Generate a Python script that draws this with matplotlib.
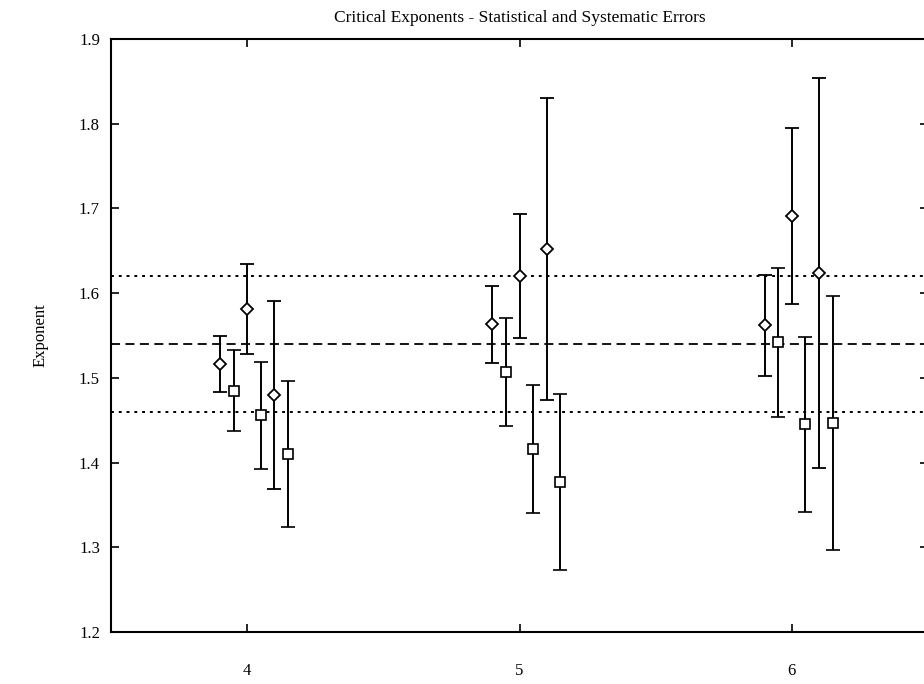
import matplotlib
matplotlib.use("Agg")
import matplotlib.pyplot as plt

# dimension groups and the offsets used for the two estimator series
dims = [4, 5, 6]
diamond_offsets = [-0.10, 0.00, 0.10]
square_offsets = [-0.05, 0.05, 0.15]

# diamonds (statistical), per dimension, three estimates each
diamond_vals = [[1.516, 1.581, 1.480],
                [1.563, 1.620, 1.652],
                [1.562, 1.691, 1.624]]
diamond_errs = [[0.033, 0.053, 0.111],
                [0.045, 0.073, 0.178],
                [0.060, 0.104, 0.230]]

# squares (systematic)
square_vals = [[1.485, 1.456, 1.410],
               [1.507, 1.416, 1.377],
               [1.542, 1.445, 1.447]]
square_errs = [[0.048, 0.063, 0.086],
               [0.064, 0.076, 0.104],
               [0.088, 0.103, 0.150]]

mean_value = 1.54
band = [1.46, 1.62]

plt.rcParams["font.family"] = ["Liberation Serif", "DejaVu Serif"]

fig = plt.figure(figsize=(9.24, 6.84), dpi=100)
ax = fig.add_axes([111 / 924, 1 - 632 / 684, 817 / 924, 593 / 684])

ax.axhline(mean_value, color="black", lw=1.3, ls=(0, (5, 3)))
for b in band:
    ax.axhline(b, color="black", lw=1.4, ls=(0, (1.5, 2.5)))

for i, d in enumerate(dims):
    xs = [d + o for o in diamond_offsets]
    ax.errorbar(xs, diamond_vals[i], yerr=diamond_errs[i], fmt="D",
                ms=6, mfc="white", mec="black", mew=1.3, color="black",
                ecolor="black", elinewidth=1.4, capsize=5, capthick=1.4)
    xs = [d + o for o in square_offsets]
    ax.errorbar(xs, square_vals[i], yerr=square_errs[i], fmt="s",
                ms=7, mfc="white", mec="black", mew=1.2, color="black",
                ecolor="black", elinewidth=1.4, capsize=5, capthick=1.4)

ax.set_xlim(3.5, 6.5)
ax.set_ylim(1.2, 1.9)
ax.set_xticks(dims)
ax.set_xticklabels([str(d) for d in dims])
ax.set_yticks([1.2, 1.3, 1.4, 1.5, 1.6, 1.7, 1.8, 1.9])
ax.tick_params(axis="both", direction="in", top=True, right=True,
               length=6, width=1.2, labelsize=12)
ax.tick_params(axis="x", pad=22)
ax.tick_params(axis="y", pad=8)
for s in ax.spines.values():
    s.set_linewidth(1.5)

ax.set_ylabel("Exponent", fontsize=12, labelpad=22)
ax.set_title("Critical Exponents - Statistical and Systematic Errors",
             fontsize=12.5, pad=12)

fig.savefig("out.png", dpi=100)
